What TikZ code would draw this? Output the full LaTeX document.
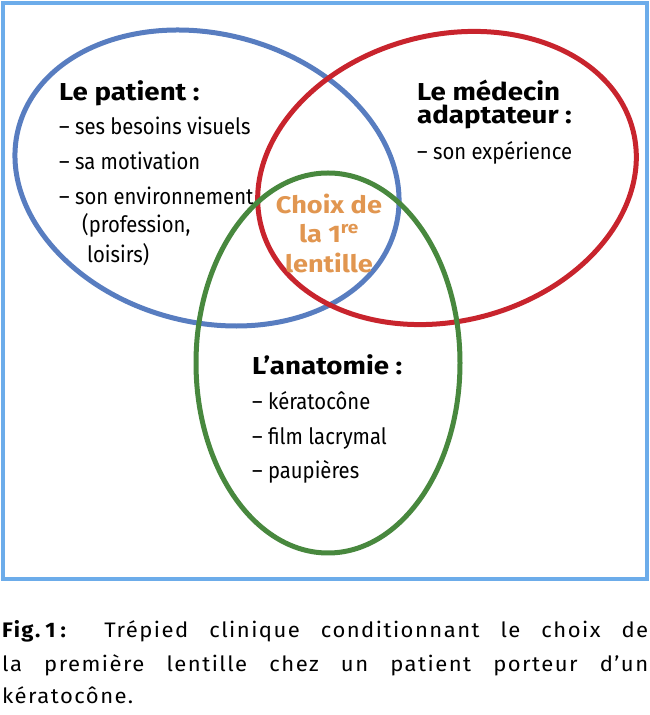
\documentclass[tikz,border=0pt]{standalone}
\usepackage{fontspec}
\setmainfont{Fira Sans}
\newfontfamily\condf[FakeStretch=0.9]{Fira Sans}
\newfontfamily\headf[FakeStretch=1.13]{Fira Sans}
\newfontfamily\capf[FakeStretch=1.05,LetterSpace=7]{Fira Sans}
\definecolor{frameC}{RGB}{108,172,234}
\definecolor{blueE}{RGB}{88,125,192}
\definecolor{redE}{RGB}{200,36,45}
\definecolor{greenE}{RGB}{72,136,62}
\definecolor{orangeT}{RGB}{225,150,80}
\begin{document}
\begin{tikzpicture}[x=1pt,y=1pt,
  every node/.style={inner sep=0pt, anchor=base west},
  head/.style={font=\headf\fontsize{24.5}{29}\selectfont\bfseries},
  itemtxt/.style={font=\condf\fontsize{22.5}{27}\selectfont},
  choix/.style={font=\headf\fontsize{24}{29}\selectfont\bfseries, text=orangeT, anchor=base},
  captxt/.style={font=\capf\fontsize{21}{25}\selectfont},
  ring/.style={line width=5pt}]
\useasboundingbox (0,0) rectangle (650,715);
\draw[frameC, line width=3.5pt] (3,136) rectangle (647,712);
\draw[ring, blueE, rotate around={-15:(207,537)}] (207,537) ellipse [x radius=195, y radius=144];
\draw[ring, redE, rotate around={14.5:(447,537)}] (447,537) ellipse [x radius=192, y radius=143];
\draw[ring, greenE] (328,352) ellipse [x radius=132, y radius=190];
% patient
\node[head] (p0) at (59,614) {Le patient :};
\node[itemtxt] (p1) at (59,580) {– ses besoins visuels};
\node[itemtxt] (p2) at (59,545) {– sa motivation};
\node[itemtxt] (p3) at (59,510) {– son environnement};
\node[itemtxt] (p4) at (82,482) {(profession,};
\node[itemtxt] (p5) at (87,452) {loisirs)};
% medecin
\node[head] (m0) at (417,614) {Le médecin};
\node[head] (m1) at (417,591) {adaptateur :};
\node[itemtxt] (m2) at (417,555) {– son expérience};
% choix
\node[choix] (c0) at (329,501) {Choix de};
\node[choix] (c1) at (329,472) {la 1\textsuperscript{re}};
\node[choix] (c2) at (329,442) {lentille};
% anatomie
\node[head] (a0) at (252,340) {L’anatomie :};
\node[itemtxt] (a1) at (252,305) {– kératocône};
\node[itemtxt] (a2) at (252,270) {– film lacrymal};
\node[itemtxt] (a3) at (252,236) {– paupières};
% caption
\node[captxt] (f1) at (2,77) {\makebox[646pt][s]{\textbf{Fig.\hspace{5pt}1\hspace{5pt}:} Trépied clinique conditionnant le choix de}};
\node[captxt] (f2) at (2,43) {\makebox[646pt][s]{la première lentille chez un patient porteur d’un}};
\node[captxt] (f3) at (2,11) {kératocône.};
\end{tikzpicture}
\end{document}
